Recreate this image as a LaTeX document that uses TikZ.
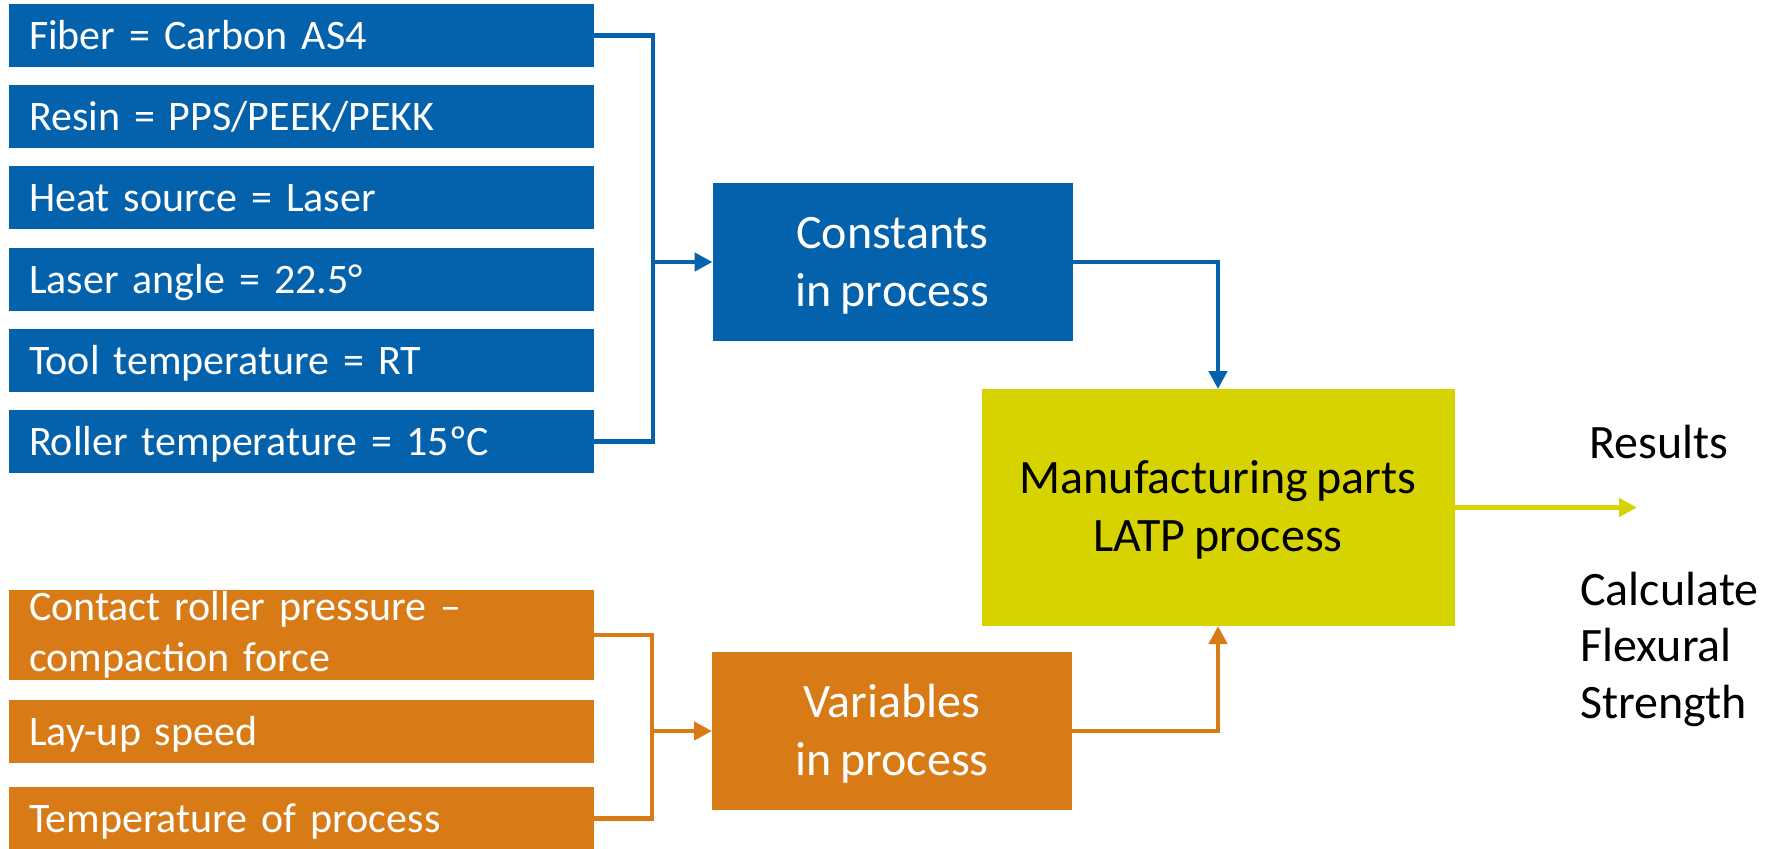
\documentclass[tikz,border=0pt]{standalone}
\usepackage{fontspec}
\setmainfont{Carlito}[WordSpace=0.8]
\usetikzlibrary{arrows.meta}
\definecolor{procblue}{RGB}{4,97,171}
\definecolor{procorange}{RGB}{216,123,23}
\definecolor{procyellow}{RGB}{215,211,0}
\newcommand{\topstrut}{\rule{0pt}{22pt}}
\newcommand{\botstrut}{\rule[-7pt]{0pt}{0pt}}

\begin{document}
\begin{tikzpicture}[%
x=0.5pt, y=-0.5pt,
>={Triangle[length=9pt,width=9pt]},
parambox/.style={anchor=west, outer sep=0pt, inner xsep=10pt, inner ysep=0pt,
  text width=272.5pt, minimum height=31.5pt, align=left, text=white,
  font=\fontsize{21}{25.5}\selectfont},
oneline/.style={text height=14.2pt, text depth=0pt},
constbox/.style={parambox, oneline, fill=procblue},
varbox/.style={parambox, fill=procorange},
groupbox/.style={outer sep=0pt, inner sep=0pt, minimum width=180pt,
  minimum height=79pt, align=center, text=white,
  font=\fontsize{24}{29}\selectfont},
mainbox/.style={outer sep=0pt, inner sep=0pt, minimum width=236.5pt,
  minimum height=118.5pt, align=center, fill=procyellow,
  font=\fontsize{24}{29.2}\selectfont},
resulttext/.style={inner sep=0pt, align=left,
  font=\fontsize{24}{28.25}\selectfont},
bluelink/.style={draw=procblue, line width=2.4pt},
orangelink/.style={draw=procorange, line width=2.4pt},
yellowlink/.style={draw=procyellow, line width=2.4pt},
]
\useasboundingbox (0,0) rectangle (1779,848);
%% constants;
\node [constbox] (fiber) at (9,35.5) {Fiber = Carbon AS4};
\node [constbox] (resin) at (9,116.5) {Resin = PPS/PEEK/PEKK};
\node [constbox] (heat) at (9,197.5) {Heat source = Laser};
\node [constbox] (angle) at (9,279.5) {Laser angle = 22.5°};
\node [constbox] (tool) at (9,360.5) {Tool temperature = RT};
\node [constbox] (roller) at (9,441.5) {Roller temperature = 15ºC};
%% variables;
\node [varbox, minimum height=45pt] (press) at (9,635) {Contact roller pressure --\\compaction force};
\node [varbox, oneline] (speed) at (9,731.5) {Lay-up speed};
\node [varbox, oneline] (temp) at (9,818.5) {Temperature of process};
%% groups;
\node [groupbox, fill=procblue] (const) at (892.5,262) {\topstrut Constants\\in process\botstrut};
\node [groupbox, fill=procorange] (vari) at (892,731) {\topstrut Variables\\in process\botstrut};
%% process;
\node [mainbox] (manuf) at (1218,507.5) {\topstrut Manufacturing parts\\LATP process\botstrut};
%% results;
\node [resulttext, anchor=base west] (res) at (1589,458) {Results};
\node [resulttext, anchor=west] (calc) at (1580,661.5) {\rule{0pt}{20pt}Calculate\\Flexural\\Strength\rule[-20pt]{0pt}{0pt}};
%% links;
\coordinate (cjoin) at (653,262);
\coordinate (vjoin) at (652,731);
\coordinate (cend) at (1637,507.5);
\draw [bluelink] (fiber.east) -| (cjoin) |- (roller.east);
\draw [bluelink,->] (cjoin) -- (const.west);
\draw [orangelink] (press.east) -| (vjoin) |- (temp.east);
\draw [orangelink,->] (vjoin) -- (vari.west);
\draw [bluelink,->] (const.east) -| (manuf.north);
\draw [orangelink,->] (vari.east) -| (manuf.south);
\draw [yellowlink,->] (manuf.east) -- (cend);
\end{tikzpicture}
\end{document}
